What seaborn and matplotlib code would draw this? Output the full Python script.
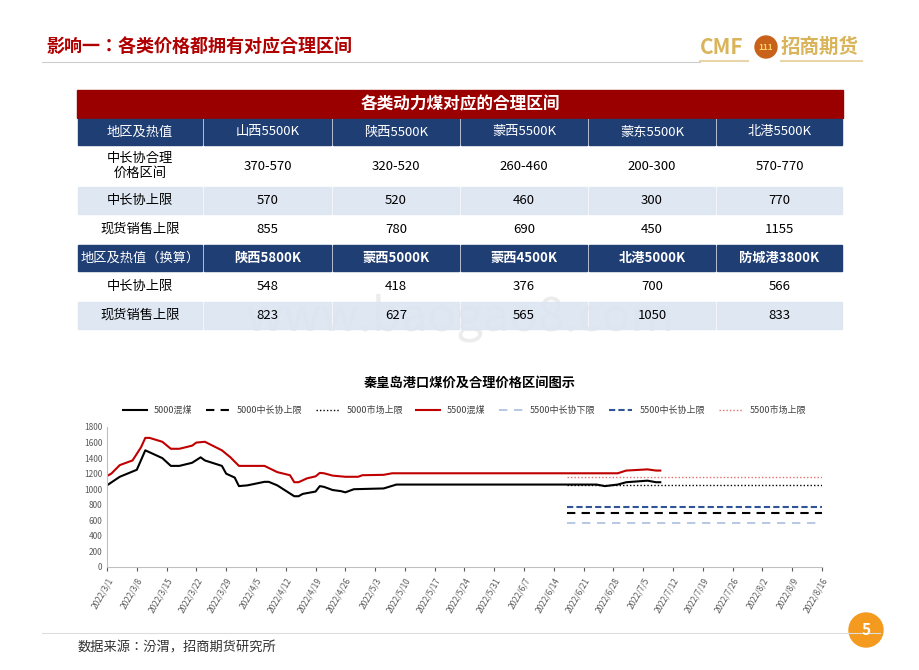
import matplotlib
matplotlib.use("Agg")
import matplotlib.pyplot as plt
import matplotlib.dates as mdates
from matplotlib.patches import Rectangle, Circle
import pandas as pd
import seaborn as sns

plt.rcParams["font.family"] = ["Noto Sans CJK JP", "Noto Sans CJK SC", "DejaVu Sans"]

# ---- table data ----
table_title = "各类动力煤对应的合理区间"
header1 = ["地区及热值", "山西5500K", "陕西5500K", "蒙西5500K", "蒙东5500K", "北港5500K"]
rows1 = [
    ["中长协合理\n价格区间", "370-570", "320-520", "260-460", "200-300", "570-770"],
    ["中长协上限", "570", "520", "460", "300", "770"],
    ["现货销售上限", "855", "780", "690", "450", "1155"],
]
header2 = ["地区及热值（换算）", "陕西5800K", "蒙西5000K", "蒙西4500K", "北港5000K", "防城港3800K"]
rows2 = [
    ["中长协上限", "548", "418", "376", "700", "566"],
    ["现货销售上限", "823", "627", "565", "1050", "833"],
]

# ---- chart data ----
black_dates = ["3/1", "3/4", "3/8", "3/10", "3/14", "3/16", "3/18", "3/21", "3/23", "3/24", "3/28",
               "3/29", "3/31", "4/1", "4/3", "4/7", "4/8", "4/10", "4/12", "4/14", "4/15", "4/16",
               "4/19", "4/20", "4/21", "4/23", "4/25", "4/26", "4/28", "5/5", "5/8", "6/20", "6/24",
               "6/26", "6/29", "7/1", "7/6", "7/8", "7/9"]
black_vals = [1050, 1160, 1250, 1500, 1400, 1300, 1300, 1340, 1410, 1370, 1300,
              1200, 1150, 1040, 1050, 1095, 1095, 1050, 980, 910, 910, 940,
              970, 1040, 1030, 990, 975, 960, 1000, 1010, 1060, 1060, 1060,
              1040, 1060, 1090, 1110, 1090, 1090]
red_dates = ["3/1", "3/2", "3/4", "3/7", "3/9", "3/10", "3/11", "3/14", "3/16", "3/18", "3/21",
             "3/22", "3/24", "3/28", "3/30", "4/1", "4/7", "4/10", "4/13", "4/14", "4/15", "4/17",
             "4/19", "4/20", "4/21", "4/23", "4/26", "4/29", "4/30", "5/5", "5/7", "6/29", "7/1",
             "7/6", "7/8", "7/9"]
red_vals = [1170, 1200, 1310, 1370, 1540, 1660, 1660, 1610, 1520, 1520, 1560,
            1600, 1610, 1500, 1410, 1300, 1300, 1220, 1180, 1090, 1090, 1140,
            1165, 1210, 1205, 1175, 1160, 1160, 1180, 1185, 1205, 1205, 1240,
            1255, 1240, 1240]
ref_start, ref_end = "6/17", "8/16"
ref_names = ["5000中长协上限", "5000市场上限", "5500中长协下限", "5500中长协上限", "5500市场上限"]
ref_vals = [700, 1050, 570, 770, 1155]


def to_dt(d):
    return pd.to_datetime("2022/" + d)


fig = plt.figure(figsize=(9.2, 6.7), dpi=100)
bg = fig.add_axes([0, 0, 1, 1])
bg.set_xlim(0, 920)
bg.set_ylim(670, 0)
bg.axis("off")

# header
bg.text(47, 46, "影响一：各类价格都拥有对应合理区间", color="#b00000", fontsize=13,
        fontweight="bold", va="center")
bg.plot([42, 700], [62, 62], color="#cccccc", lw=0.8)
bg.text(700, 47, "CMF", color="#d9b45a", fontsize=15, fontweight="bold", va="center")
bg.add_patch(Circle((766, 47), 11, color="#c8621a"))
bg.text(766, 47, "111", color="#ffd36a", fontsize=6, ha="center", va="center", fontweight="bold")
bg.text(781, 47, "招商期货", color="#d9b45a", fontsize=14, fontweight="bold", va="center")
bg.plot([700, 748], [61, 61], color="#e8d6a8", lw=1.5)
bg.plot([781, 862], [61, 61], color="#e8d6a8", lw=1.5)

# watermark
bg.text(460, 318, "www.baogao8.com", color="#ececec", fontsize=34, ha="center", va="center", zorder=0)

# table
cols = [77, 203, 332, 460, 588, 716, 843]
bg.add_patch(Rectangle((77, 90), 766, 28, color="#9b0000", zorder=1))
bg.text(460, 104, table_title, color="white", fontsize=12, fontweight="bold", ha="center",
        va="center", zorder=3)
row_specs = [(118, 28, "head", header1), (146, 40, "w", rows1[0]), (186, 29, "l", rows1[1]),
             (215, 29, "w", rows1[2]), (244, 28, "head", header2), (272, 29, "w", rows2[0]),
             (301, 29, "l", rows2[1])]
fills = {"head": "#1f3e74", "w": "none", "l": "#dce5f1"}
for y, h, kind, cells in row_specs:
    for i in range(6):
        if fills[kind] != "none":
            bg.add_patch(Rectangle((cols[i] + 1, y + 1), cols[i + 1] - cols[i] - 2, h - 2,
                                   color=fills[kind], alpha=0.92 if kind == "l" else 1, zorder=1))
        col = "white" if kind == "head" else "black"
        bold = kind == "head" and (y == 244 and i > 0)
        bg.text((cols[i] + cols[i + 1]) / 2, y + h / 2, cells[i], color=col, fontsize=9.5,
                ha="center", va="center", fontweight="bold" if bold else "normal",
                linespacing=1.2, zorder=3)

# chart title / footer
bg.text(470, 383, "秦皇岛港口煤价及合理价格区间图示", fontsize=9.5, fontweight="bold",
        ha="center", va="center")
bg.plot([42, 880], [633, 633], color="#dddddd", lw=0.8)
bg.text(78, 648, "数据来源：汾渭，招商期货研究所", fontsize=9.5, color="#333333", va="center")
bg.add_patch(Circle((866, 630), 17, color="#f39a1f"))
bg.text(866, 630, "5", color="white", fontsize=11, fontweight="bold", ha="center", va="center")

ax = fig.add_axes([107 / 920, 1 - 567 / 670, 715 / 920, 140 / 670])
ax.patch.set_alpha(0)
sns.lineplot(x=[to_dt(d) for d in black_dates], y=black_vals, ax=ax, color="black", lw=1.5,
             label="5000混煤")
sns.lineplot(x=[to_dt(d) for d in red_dates], y=red_vals, ax=ax, color="#c00000", lw=1.5,
             label="5500混煤")
ref_styles = {"5000中长协上限": ("black", (0, (4, 3)), 1.5),
              "5000市场上限": ("black", (0, (1, 1.5)), 1.0),
              "5500中长协下限": ("#a9bfe0", (0, (5, 4)), 1.2),
              "5500中长协上限": ("#2f5597", (0, (3, 1.5)), 1.5),
              "5500市场上限": ("#e07070", (0, (1, 1.5)), 1.0)}
for name, v in zip(ref_names, ref_vals):
    c, ls, lw = ref_styles[name]
    ax.plot([to_dt(ref_start), to_dt(ref_end)], [v, v], color=c, ls=ls, lw=lw, label=name)

ax.set_xlim(to_dt("3/1"), to_dt("8/16"))
ax.set_ylim(0, 1800)
ax.set_yticks(range(0, 1801, 200))
ax.set_xticks(pd.date_range("2022-03-01", "2022-08-16", freq="7D"))
ax.xaxis.set_major_formatter(mdates.DateFormatter("%Y/%-m/%-d"))
ax.tick_params(axis="x", labelrotation=60, labelsize=6, colors="#595959", length=3)
ax.tick_params(axis="y", labelsize=6, colors="#595959", length=0)
for lab in ax.get_xticklabels():
    lab.set_ha("right")
    lab.set_rotation_mode("anchor")
for s in ["top", "right"]:
    ax.spines[s].set_visible(False)
ax.spines["left"].set_color("#bfbfbf")
ax.spines["bottom"].set_color("#bfbfbf")

h, l = ax.get_legend_handles_labels()
order = ["5000混煤", "5000中长协上限", "5000市场上限", "5500混煤", "5500中长协下限",
         "5500中长协上限", "5500市场上限"]
hmap = dict(zip(l, h))
ax.legend([hmap[k] for k in order], order, loc="lower center", bbox_to_anchor=(0.5, 1.03),
          ncol=7, frameon=False, fontsize=6.5, handlelength=2.6, columnspacing=1.5,
          labelcolor="#404040")

fig.savefig("out.png", dpi=100)
